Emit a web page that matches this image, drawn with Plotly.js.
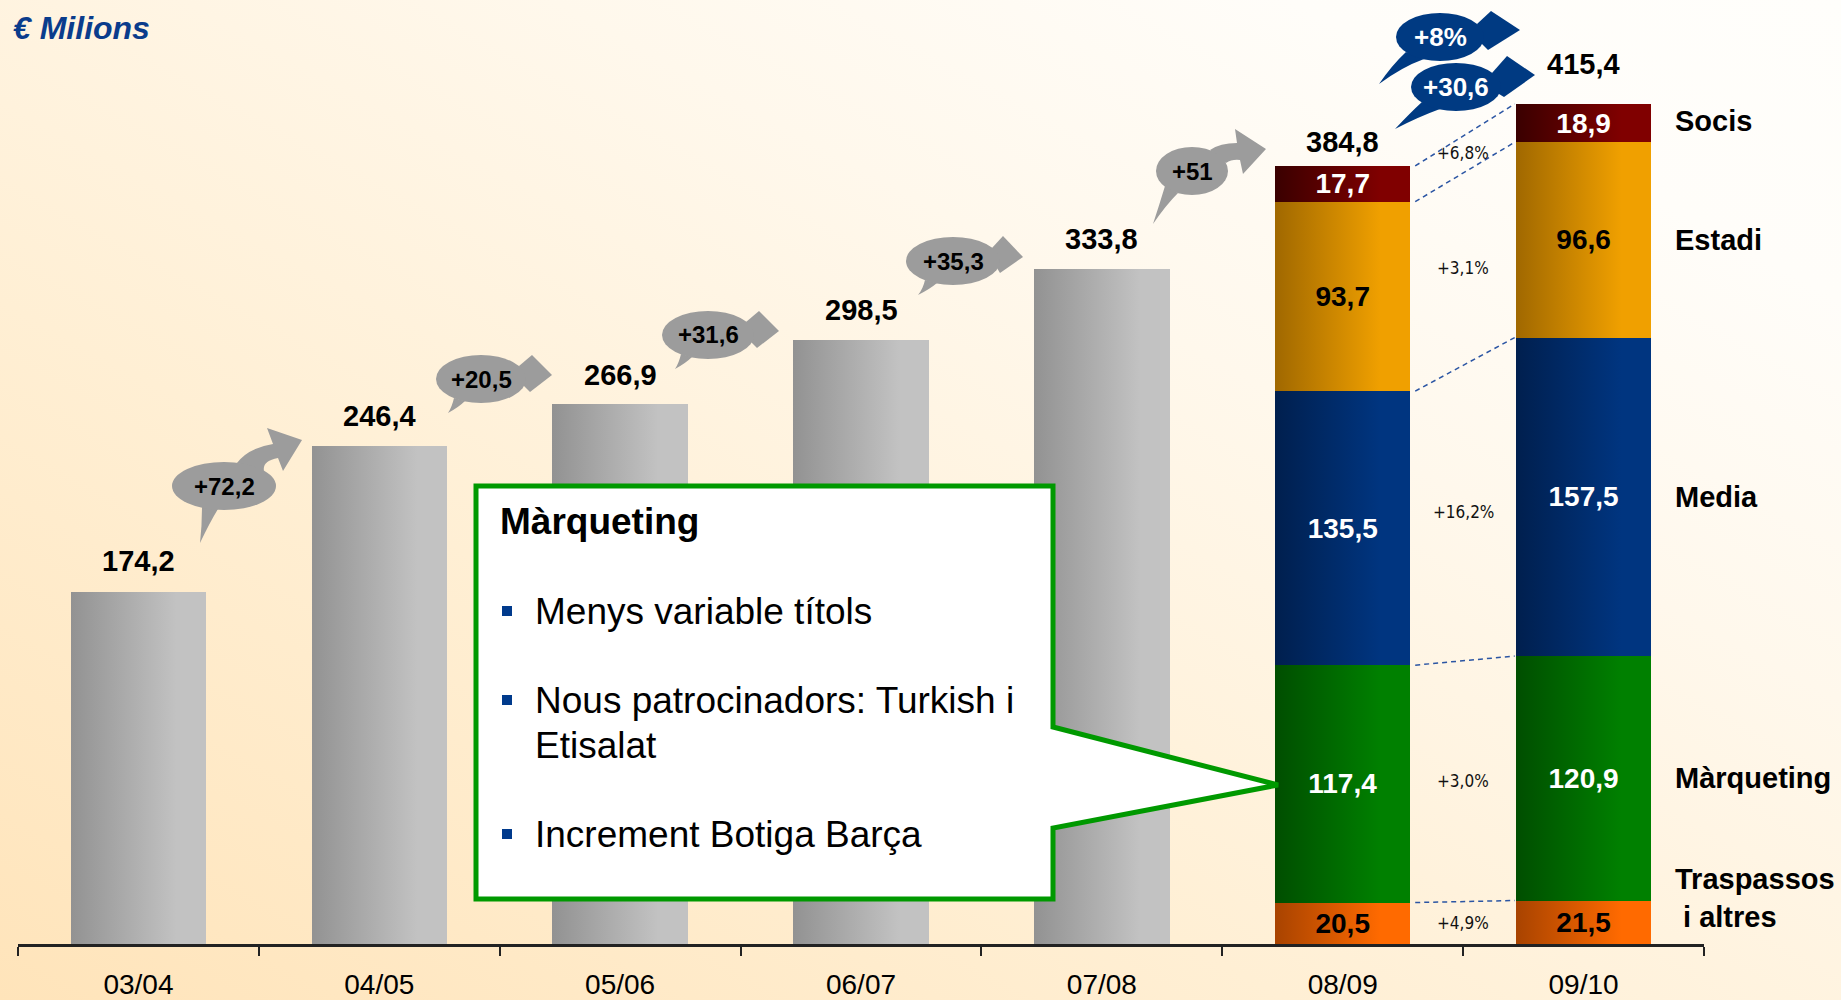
<!DOCTYPE html>
<html><head><meta charset="utf-8">
<script src="https://cdn.plot.ly/plotly-3.0.1.min.js"></script>
<style>
html,body{margin:0;padding:0;width:1841px;height:1000px;overflow:hidden;}
body{background:linear-gradient(to top right,#FFE4BA 0%,#FFEFD4 35%,#FFF8EC 65%,#FFFDF9 85%,#FFFEFB 100%);}
#chart{width:1841px;height:1000px;}
</style></head><body><div id="chart"></div>
<script>
// ---------------- DATA ----------------
const seasons = ['03/04','04/05','05/06','06/07','07/08','08/09','09/10'];
const totalSeasons = ['03/04','04/05','05/06','06/07','07/08'];
const totals = [174.2, 246.4, 266.9, 298.5, 333.8];
const splitSeasons = ['08/09','09/10'];
const splitTotals = [384.8, 415.4];
const componentNames = ['Traspassos<br>\u00a0i altres','Màrqueting','Media','Estadi','Socis'];
const traspassos = [20.5, 21.5];
const marqueting = [117.4, 120.9];
const media = [135.5, 157.5];
const estadi = [93.7, 96.6];
const socis = [17.7, 18.9];
const unitLabel = '€ Milions';
const calloutTitle = 'Màrqueting';
const calloutItems = [['Menys variable títols'], ['Nous patrocinadors: Turkish i','Etisalat'], ['Increment Botiga Barça']];

// ---------------- STYLE / LAYOUT ----------------
const W=1841, H=1000, PL=18, PR=137, PT=30, PB=56;
const PW=W-PL-PR, PH=H-PT-PB;
const YMAX=452;
const FONT='Liberation Sans, Arial, Helvetica, sans-serif';
const NARROW='Liberation Sans Narrow, Arial Narrow, DejaVu Sans Condensed, sans-serif';
const X = px => (px-PL)/PW;
const Y = py => (H-PB-py)/PH;
const BARGAP = 0.438;
const HALF = (1-BARGAP)/2;

const compColors = ['#FF6A00','#008000','#003580','#F0A000','#800000'];
const compDark   = ['#A84300','#004E00','#001F4E','#A06800','#3A0000'];
const compText   = ['#000000','#ffffff','#ffffff','#000000','#ffffff'];
const totalShift = [31,30,29,30,30,24,40];

const GRAY='#9C9C9C', BLUE='#003A82';
const bubbleStyle = [
  {cx:224, cy:486, rx:52, ry:24, color:GRAY, fc:'#000', fs:24,
   head:[['M',13,-23],['Q',24,-38,49,-42],['L',43,-58],['L',78,-46],['L',59,-15],['L',54,-28],['Q',38,-25,40,-15],['Z']],
   tail:[['M',-22,21],['Q',-22,40,-24,57],['Q',-14,36,-6,23],['Z']]},
  {cx:481, cy:379, rx:45, ry:24, color:GRAY, fc:'#000', fs:24,
   head:[['M',38,-13],['L',51,-24],['L',71,-4],['L',49,13],['L',43,7],['Z']],
   tail:[['M',-27,19],['Q',-29,28,-33,34],['Q',-22,28,-16,22],['Z']]},
  {cx:708, cy:335, rx:46, ry:24, color:GRAY, fc:'#000', fs:24,
   head:[['M',38,-13],['L',51,-24],['L',71,-4],['L',49,13],['L',43,7],['Z']],
   tail:[['M',-27,19],['Q',-29,28,-33,34],['Q',-22,28,-16,22],['Z']]},
  {cx:953, cy:261, rx:47, ry:24, color:GRAY, fc:'#000', fs:24,
   head:[['M',39,-13],['L',50,-25],['L',70,-4],['L',47,12],['L',44,7],['Z']],
   tail:[['M',-28,19],['Q',-30,28,-35,34],['Q',-23,28,-16,22],['Z']]},
  {cx:1192, cy:171, rx:36, ry:24, color:GRAY, fc:'#000', fs:24,
   head:[['M',18,-21],['Q',28,-28,45,-28],['L',43,-42],['L',74,-22],['L',51,3],['L',48,-11],['Q',40,-12,34,-8],['Z']],
   tail:[['M',-27,15],['Q',-33,35,-39,53],['Q',-26,34,-14,22],['Z']]},
  {cx:1440, cy:37, rx:44, ry:24, color:BLUE, fc:'#fff', fs:26,
   head:[['M',37,-13],['L',51,-26],['L',80,-7],['L',48,13],['L',42,7],['Z']],
   tail:[['M',-34,15],['Q',-48,28,-61,47],['Q',-38,30,-16,22],['Z']]},
  {cx:1456, cy:87, rx:45, ry:24, color:BLUE, fc:'#fff', fs:26,
   head:[['M',36,-14],['L',51,-31],['L',79,-12],['L',48,10],['L',43,7],['Z']],
   tail:[['M',-34,15],['Q',-46,26,-61,42],['Q',-38,30,-16,22],['Z']]}
];

// ---------------- DERIVED ----------------
const comps = [traspassos, marqueting, media, estadi, socis];
const allTotals = totals.concat(splitTotals);
const fmt = v => v.toFixed(1).replace('.', ',').replace(/,0$/, '');
const growthLabels = [];
for (let i=0;i<allTotals.length-1;i++) growthLabels.push('+'+fmt(allTotals[i+1]-allTotals[i]));
const lastPct = (allTotals[6]-allTotals[5])/allTotals[5]*100;
growthLabels.splice(5, 0, '+'+Math.round(lastPct)+'%');

function cumul(j){ const out=[]; let s=0; comps.forEach(c=>{ s+=c[j]; out.push(s); }); return out; }
const cumA = cumul(0), cumB = cumul(1);
const midA = cumA.map((c,k)=>c-comps[k][0]/2), midB = cumB.map((c,k)=>c-comps[k][1]/2);

// ---------------- TRACES ----------------
const traces = [{
  type:'bar', x: totalSeasons, y: totals, marker:{color:'#B0B0B0', line:{width:0}},
  hoverinfo:'skip', showlegend:false
}];
comps.forEach((c,k)=>{
  traces.push({
    type:'bar', x: splitSeasons, y: c, name: componentNames[k],
    marker:{color: compColors[k], line:{width:0}},
    texttemplate:'%{y:.1f}', textposition:'inside', insidetextanchor:'middle',
    textangle:0, constraintext:'none',
    textfont:{family:FONT, size:28, color: compText[k], weight:'bold'},
    hoverinfo:'skip', showlegend:false
  });
});

// ---------------- ANNOTATIONS ----------------
const ann = [];
allTotals.forEach((t,i)=>ann.push({x:i, y:t, xref:'x', yref:'y', text: t.toFixed(1).replace('.', ','),
  showarrow:false, yanchor:'middle', yshift: totalShift[i], font:{family:FONT, size:29, color:'#000', weight:'bold'}}));

// percent change between 08/09 and 09/10
comps.forEach((c,k)=>{
  const p = (c[1]-c[0])/c[0]*100;
  ann.push({x:5.5, y:(midA[k]+midB[k])/2, xref:'x', yref:'y', text:'+'+p.toFixed(1).replace('.',',')+'%',
    showarrow:false, yanchor:'middle', font:{family:NARROW, size:17, color:'#111'}});
});
// right labels
componentNames.forEach((n,k)=>{
  ann.push({x:X(1673), xref:'paper', y: midB[k], yref:'y', text:n, showarrow:false, xanchor:'left', align:'left',
    yanchor:'middle', yshift: k===0? 24:(k===4?2:0), font:{family:FONT, size:29, color:'#000', weight:'bold'}});
});
// unit label
ann.push({x:X(11), y:Y(28), xref:'paper', yref:'paper', text:'<i>'+unitLabel+'</i>', showarrow:false,
  xanchor:'left', yanchor:'middle', font:{family:FONT, size:32, color:'#0A3C8C', weight:'bold'}});

// ---------------- SHAPES ----------------
function relPath(cx, cy, cmds){
  return cmds.map(c=>{
    const nums=c.slice(1), out=[];
    for(let i=0;i<nums.length;i+=2) out.push(X(cx+nums[i]).toFixed(5)+','+Y(cy+nums[i+1]).toFixed(5));
    return c[0]+(out.length?' '+out.join(' '):'');
  }).join(' ');
}
const shapes = [];
// dashed connectors
cumA.forEach((v,k)=>{
  shapes.push({type:'line', xref:'x', yref:'y', x0:5+HALF+0.02, x1:6-HALF-0.005, y0:v, y1:cumB[k],
    line:{color:'#2B55A3', width:1.5, dash:'5px,4px'}, layer:'above'});
});
// growth bubbles
bubbleStyle.forEach((b,i)=>{
  shapes.push({type:'path', xref:'paper', yref:'paper', path: relPath(b.cx,b.cy,b.tail), fillcolor:b.color, line:{width:0}, layer:'above'});
  shapes.push({type:'path', xref:'paper', yref:'paper', path: relPath(b.cx,b.cy,b.head), fillcolor:b.color, line:{width:0}, layer:'above'});
  shapes.push({type:'circle', xref:'paper', yref:'paper', x0:X(b.cx-b.rx), x1:X(b.cx+b.rx), y0:Y(b.cy+b.ry), y1:Y(b.cy-b.ry),
    fillcolor:b.color, line:{width:0}, layer:'above'});
  ann.push({x:X(b.cx), y:Y(b.cy), xref:'paper', yref:'paper', text: growthLabels[i], showarrow:false,
    xanchor:'center', yanchor:'middle', font:{family:FONT, size:b.fs, color:b.fc, weight:'bold'}});
});
// callout
const cbox = {l:476, t:486, r:1053, b:899, p1:727, p2:828, tipx:1278, tipy:785};
shapes.push({type:'path', xref:'paper', yref:'paper', layer:'above', fillcolor:'#ffffff', line:{color:'#009900', width:5},
  path: relPath(0,0,[['M',cbox.l,cbox.t],['L',cbox.r,cbox.t],['L',cbox.r,cbox.p1],['L',cbox.tipx,cbox.tipy],['L',cbox.r,cbox.p2],['L',cbox.r,cbox.b],['L',cbox.l,cbox.b],['Z']])});
ann.push({x:X(498), y:Y(521), xref:'paper', yref:'paper', text:calloutTitle, showarrow:false, xanchor:'left', yanchor:'middle',
  font:{family:FONT, size:37, color:'#000', weight:'bold'}});
let ly = 611;
calloutItems.forEach(item=>{
  shapes.push({type:'rect', xref:'paper', yref:'paper', x0:X(502), x1:X(512), y0:Y(ly+5), y1:Y(ly-5), fillcolor:'#003A8C', line:{width:0}, layer:'above'});
  item.forEach((line,j)=>{
    ann.push({x:X(533), y:Y(ly), xref:'paper', yref:'paper', text:line, showarrow:false, xanchor:'left', yanchor:'middle',
      font:{family:FONT, size:37, color:'#000'}});
    if (j<item.length-1) ly += 45;
  });
  ly += 89;
});

// ---------------- LAYOUT ----------------
const layout = {
  width:W, height:H, margin:{l:PL, r:PR, t:PT, b:PB},
  paper_bgcolor:'rgba(0,0,0,0)', plot_bgcolor:'rgba(0,0,0,0)',
  barmode:'stack', bargap:BARGAP, separators:',.', showlegend:false, hovermode:false,
  xaxis:{type:'category', categoryorder:'array', categoryarray:seasons, range:[-0.5,6.5], fixedrange:true,
    showline:true, linecolor:'#222', linewidth:3, ticks:'outside', tickson:'boundaries', ticklen:9, tickwidth:2,
    tickcolor:'#222', showgrid:false, zeroline:false, tickfont:{family:FONT, size:28, color:'#000'}, ticklabelstandoff:13},
  yaxis:{range:[0,YMAX], visible:false, fixedrange:true, showgrid:false, zeroline:false},
  shapes:shapes, annotations:ann
};

Plotly.newPlot('chart', traces, layout, {displayModeBar:false, staticPlot:true}).then(gd=>{
  const svg = gd.querySelector('svg.main-svg');
  const NS='http://www.w3.org/2000/svg';
  let defs = svg.querySelector('defs');
  if(!defs){ defs=document.createElementNS(NS,'defs'); svg.insertBefore(defs, svg.firstChild); }
  const grads = [['#929292','#C2C2C2']].concat(compDark.map((d,k)=>[d,compColors[k]]));
  grads.forEach((g,i)=>{
    const lg=document.createElementNS(NS,'linearGradient');
    lg.setAttribute('id','bargrad'+i); lg.setAttribute('x1','0'); lg.setAttribute('x2','1'); lg.setAttribute('y1','0'); lg.setAttribute('y2','0');
    [[0,g[0]],[0.78,g[1]],[1,g[1]]].forEach(s=>{
      const st=document.createElementNS(NS,'stop'); st.setAttribute('offset',s[0]); st.setAttribute('stop-color',s[1]); lg.appendChild(st);
    });
    defs.appendChild(lg);
  });
  gd.querySelectorAll('.barlayer .trace').forEach((tr,i)=>{
    tr.querySelectorAll('.point path').forEach(p=>{ p.style.fill='url(#bargrad'+i+')'; });
  });
});
</script></body></html>
